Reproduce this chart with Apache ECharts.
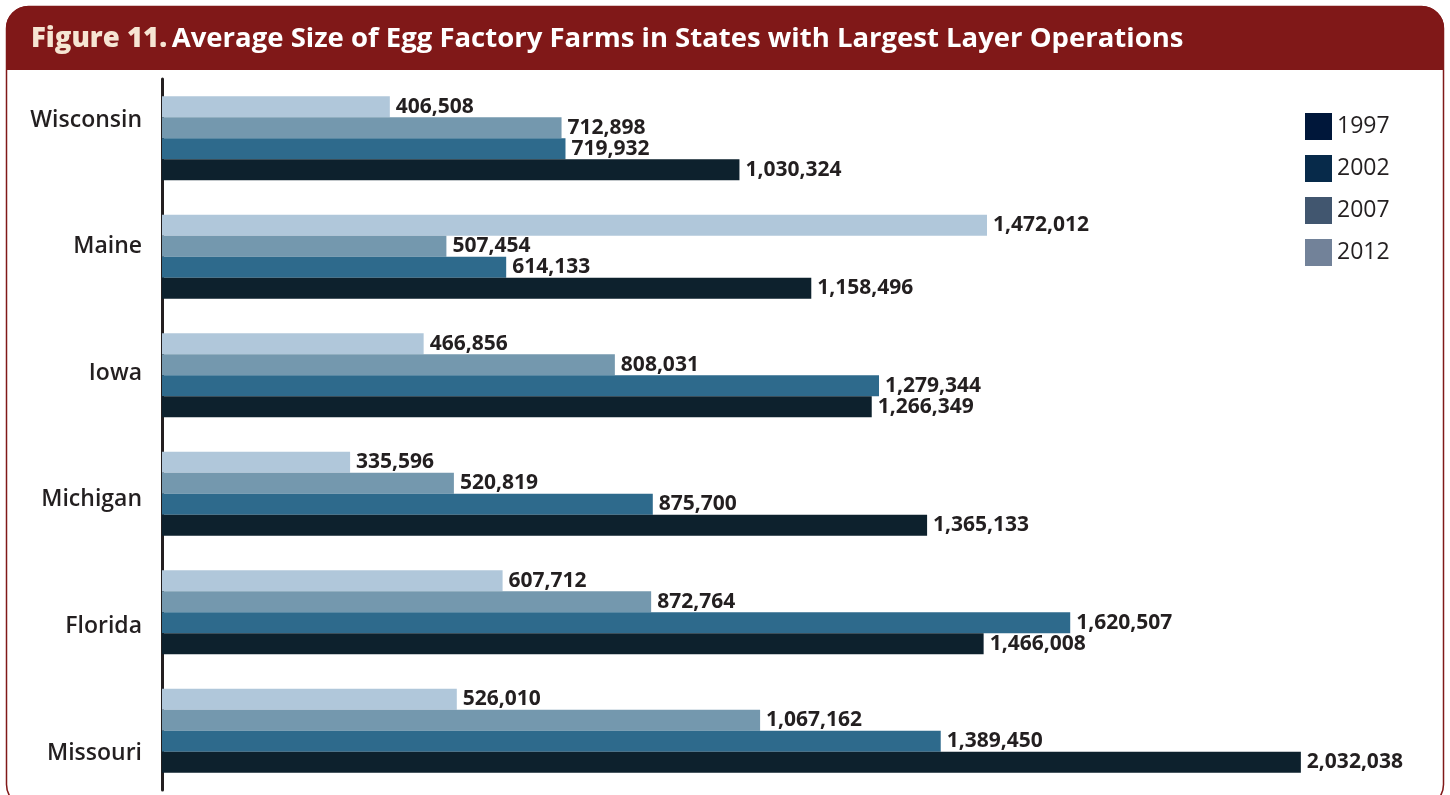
<!DOCTYPE html>
<html>
<head>
<meta charset="utf-8">
<script src="https://cdn.jsdelivr.net/npm/echarts@6/dist/echarts.min.js"></script>
<style>
  html, body { margin: 0; padding: 0; background: #fff; }
  #chart { width: 1450px; height: 795px; }
</style>
</head>
<body>
<div id="chart"></div>
<script>
  // data
  const states = ['Wisconsin', 'Maine', 'Iowa', 'Michigan', 'Florida', 'Missouri']
  const years = ['1997', '2002', '2007', '2012']
  const v1997 = [1030324, 1158496, 1266349, 1365133, 1466008, 2032038]
  const v2002 = [719932, 614133, 1279344, 875700, 1620507, 1389450]
  const v2007 = [712898, 507454, 808031, 520819, 872764, 1067162]
  const v2012 = [406508, 1472012, 466856, 335596, 607712, 526010]

  const barColors = ['#0d212d', '#2e6a8c', '#7498ae', '#b0c7da']
  const legendColors = ['#00173a', '#072a4a', '#41566f', '#728299']
  const values = [v1997, v2002, v2007, v2012]

  const red = '#801818'
  const ink = '#231f20'
  const font = '"Open Sans", sans-serif'

  const chart = echarts.init(document.getElementById('chart'))

  // 2012 on top of each group, 1997 at the bottom
  const order = [3, 2, 1, 0]
  const series = order.map((i) => ({
    name: years[i],
    type: 'bar',
    xAxisIndex: 0,
    yAxisIndex: 0,
    barWidth: 21,
    barGap: '0%',
    itemStyle: { color: barColors[i] },
    label: {
      show: true,
      position: 'right',
      distance: 6,
      color: ink,
      fontFamily: font,
      fontWeight: 'bold',
      fontSize: 21,
      formatter: (p) => p.value.toLocaleString('en-US'),
    },
    data: values[i],
  }))

  chart.setOption({
    animation: false,
    textStyle: { fontFamily: font },
    graphic: [
      {
        type: 'rect',
        shape: { x: 6.5, y: 6.5, width: 1437, height: 800, r: 22 },
        style: { fill: '#fff', stroke: red, lineWidth: 1.5 },
        z: -10,
      },
      {
        type: 'rect',
        shape: { x: 6, y: 6, width: 1438, height: 64, r: [22, 22, 0, 0] },
        style: { fill: red },
        z: -5,
      },
    ],
    title: {
      left: 26,
      top: 20,
      text: '{a|Figure 11.} {b|Average Size of Egg Factory Farms in States with Largest Layer Operations}',
      textStyle: {
        rich: {
          a: { color: '#f6e5d3', fontFamily: font, fontWeight: 800, fontSize: 27.5 },
          b: { color: '#ffffff', fontFamily: font, fontWeight: 'bold', fontSize: 27.5 },
        },
      },
    },
    legend: {
      orient: 'vertical',
      left: 1300,
      top: 108,
      itemWidth: 27,
      itemHeight: 27,
      itemGap: 15,
      icon: 'rect',
      textStyle: { color: ink, fontFamily: font, fontSize: 23 },
      data: years.map((y, i) => ({ name: y, itemStyle: { color: legendColors[i] } })),
    },
    grid: [
      { left: 162, right: 55, top: 79, height: 711 },
      // state names sit on their own spacing, a bit apart from the bar groups
      { left: 162, right: 55, top: 120, height: 633 },
    ],
    xAxis: [
      { type: 'value', gridIndex: 0, min: 0, max: 2200000, show: false },
      { type: 'value', gridIndex: 1, show: false },
    ],
    yAxis: [
      {
        type: 'category',
        gridIndex: 0,
        inverse: true,
        data: states,
        axisLine: { show: true, lineStyle: { color: ink, width: 3 } },
        axisTick: { show: false },
        axisLabel: { show: false },
      },
      {
        type: 'category',
        gridIndex: 1,
        inverse: true,
        boundaryGap: false,
        data: states,
        axisLine: { show: false },
        axisTick: { show: false },
        axisLabel: {
          margin: 20,
          color: ink,
          fontFamily: font,
          fontWeight: 600,
          fontSize: 23,
        },
      },
    ],
    series: series,
  })
</script>
</body>
</html>
